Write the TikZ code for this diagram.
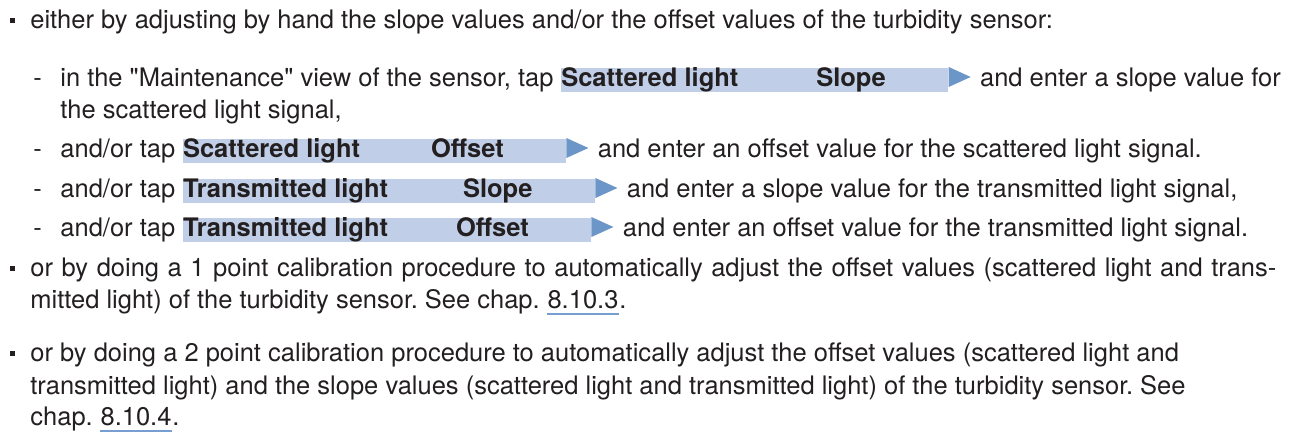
\documentclass[tikz,border=0pt]{standalone}
\usepackage{fontspec}
\setmainfont{TeX Gyre Heros}[Ligatures=TeXOff]
\usepackage{tikz}
\usetikzlibrary{calc, positioning}
\definecolor{ink}{RGB}{35,31,32}
\definecolor{keyfill}{RGB}{192,207,231}
\definecolor{keytip}{RGB}{108,150,200}
\definecolor{linkblue}{RGB}{118,158,208}
\tikzstyle{textline} = [inner sep=0pt, anchor=base west, text=ink, font=\fontsize{12.75}{15}\selectfont]
\tikzstyle{keybox} = [textline, fill=keyfill, text height=9.5pt, text depth=2.5pt, font=\fontsize{12.75}{15}\selectfont\bfseries]
\tikzstyle{keyarrow} = [fill=keytip]
\tikzstyle{itemmark} = [fill=ink]
\tikzstyle{linkline} = [draw=linkblue, line width=0.9pt]
\newcommand{\keytext}[4]{\makebox[#1][l]{\makebox[#2][l]{#3}#4}}
\begin{document}
\frenchspacing
\begin{tikzpicture}[x=0.5pt, y=-0.5pt]
	\useasboundingbox (0,0) rectangle (1290,432);
	\node (Item1) [textline] at (30,29) {either by adjusting by hand the slope values and/or the offset values of the turbidity sensor:};
	\fill[itemmark] ($(Item1.base west)+(-20,-11)$) rectangle +(5,5);
	\node (Dash1) [textline] at (33,87) {-};
	\node (Sub1) [textline] at (60,87) {in the "Maintenance" view of the sensor, tap};
	\node (Key1) [keybox, base right=3.5pt of Sub1] {\keytext{193.5pt}{127.5pt}{Scattered light}{Slope}};
	\fill[keyarrow] ([yshift=6.5pt]Key1.east) -- ++(22,10) -- ++(-22,10) -- cycle;
	\node (Rest1) [textline, base right=15.5pt of Key1] {and enter a slope value for};
	\node (Sub1b) [textline] at (60,119) {the scattered light signal,};
	\node (Dash2) [textline] at (33,158) {-};
	\node (Sub2) [textline] at (60,158) {and/or tap};
	\node (Key2) [keybox, base right=3.5pt of Sub2] {\keytext{191.5pt}{124pt}{Scattered light}{Offset}};
	\fill[keyarrow] ([yshift=6.5pt]Key2.east) -- ++(22,10) -- ++(-22,10) -- cycle;
	\node (Rest2) [textline, base right=15.5pt of Key2] {and enter an offset value for the scattered light signal.};
	\node (Dash3) [textline] at (33,198) {-};
	\node (Sub3) [textline] at (60,198) {and/or tap};
	\node (Key3) [keybox, base right=3.5pt of Sub3] {\keytext{206pt}{140pt}{Transmitted light}{Slope}};
	\fill[keyarrow] ([yshift=6.5pt]Key3.east) -- ++(22,10) -- ++(-22,10) -- cycle;
	\node (Rest3) [textline, base right=15.5pt of Key3] {and enter a slope value for the transmitted light signal,};
	\node (Dash4) [textline] at (33,237) {-};
	\node (Sub4) [textline] at (60,237) {and/or tap};
	\node (Key4) [keybox, base right=3.5pt of Sub4] {\keytext{204pt}{136.5pt}{Transmitted light}{Offset}};
	\fill[keyarrow] ([yshift=6.5pt]Key4.east) -- ++(22,10) -- ++(-22,10) -- cycle;
	\node (Rest4) [textline, base right=15.5pt of Key4] {and enter an offset value for the transmitted light signal.};
	\node (Item2) [textline] at (30,277) {\makebox[623pt][s]{or by doing a 1 point calibration procedure to automatically adjust the offset values (scattered light and trans-}};
	\fill[itemmark] ($(Item2.base west)+(-20,-11)$) rectangle +(5,5);
	\node (Item2b) [textline] at (30,309) {mitted light) of the turbidity sensor. See chap.};
	\node (Ref1) [textline, base right=3.5pt of Item2b] {8.10.3};
	\node (Dot1) [textline, base right=0pt of Ref1] {.};
	\draw[linkline] ([yshift=-2.5pt]Ref1.base west) -- ([yshift=-2.5pt]Ref1.base east);
	\node (Item3) [textline] at (30,362) {or by doing a 2 point calibration procedure to automatically adjust the offset values (scattered light and};
	\fill[itemmark] ($(Item3.base west)+(-20,-11)$) rectangle +(5,5);
	\node (Item3b) [textline] at (30,394) {transmitted light) and the slope values (scattered light and transmitted light) of the turbidity sensor. See};
	\node (Item3c) [textline] at (30,426) {chap.};
	\node (Ref2) [textline, base right=3.5pt of Item3c] {8.10.4};
	\node (Dot2) [textline, base right=0pt of Ref2] {.};
	\draw[linkline] ([yshift=-2.5pt]Ref2.base west) -- ([yshift=-2.5pt]Ref2.base east);
\end{tikzpicture}
\end{document}
